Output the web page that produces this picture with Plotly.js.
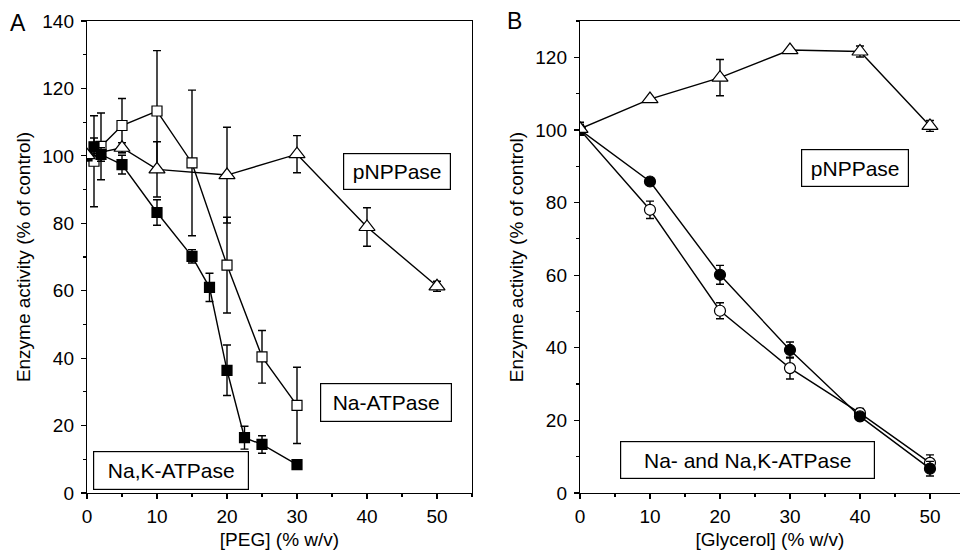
<!DOCTYPE html>
<html>
<head>
<meta charset="utf-8">
<script src="https://cdn.plot.ly/plotly-3.0.1.min.js"></script>
<style>html,body{margin:0;padding:0;background:#fff;}#chart{width:960px;height:553px;}</style>
</head>
<body>
<div id="chart"></div>
<script>
// ---------- Panel A: PEG ----------
const pegNaK_x   = [0, 1, 2, 5, 10, 15, 17.5, 20, 22.5, 25, 30];
const pegNaK_y   = [100, 102.7, 100.4, 97.4, 83.2, 70.2, 61, 36.4, 16.4, 14.4, 8.4];
const pegNaK_err = [0, 2.6, 2, 2.8, 3.8, 2, 4.2, 7.5, 3.4, 2.6, 0];

const pegNa_x    = [0, 1, 2, 5, 10, 15, 20, 25, 30];
const pegNa_y    = [100, 98.4, 102.8, 109, 113.3, 97.9, 67.6, 40.4, 26];
const pegNa_err  = [0, 13.5, 9.9, 8, 17.9, 21.6, 14.2, 7.8, 11.3];

const pegP_x     = [0, 5, 10, 20, 30, 40, 50];
const pegP_y     = [100.2, 102.4, 96, 94.3, 100.5, 78.9, 61.3];
const pegP_err   = [0, 1.5, 8.2, 14.2, 5.5, 5.7, 1.5];

// ---------- Panel B: Glycerol ----------
const glyP_x     = [0, 10, 20, 30, 40, 50];
const glyP_y     = [100.3, 108.5, 114.4, 122, 121.6, 101.1];
const glyP_err   = [1.8, 0, 5, 0, 1.5, 1.5];

const glyNaK_x   = [0, 10, 20, 30, 40, 50];
const glyNaK_y   = [100, 85.8, 60.1, 39.4, 21.1, 6.7];
const glyNaK_err = [1.5, 1, 2.6, 2.2, 1, 2];

const glyNa_x    = [0, 10, 20, 30, 40, 50];
const glyNa_y    = [100, 78, 50.2, 34.4, 22, 8.3];
const glyNa_err  = [1.5, 2.4, 2.2, 3, 1.3, 2.2];

const FONT = 'Liberation Sans, Arial, Helvetica, sans-serif';
const BLK = '#000';

function errOpts(arr){
  return {type:'data', array:arr, visible:true, color:BLK, thickness:1.4, width:4};
}
function tr(x, y, err, xa, ya, symbol, fill, size){
  return {
    x:x, y:y, xaxis:xa, yaxis:ya, type:'scatter', mode:'lines+markers',
    line:{color:BLK, width:1.4},
    marker:{symbol:symbol, size:size, color:fill, line:{color:BLK, width:1.2}},
    error_y:errOpts(err), showlegend:false, hoverinfo:'x+y'
  };
}

const data = [
  tr(pegNa_x,  pegNa_y,  pegNa_err,  'x','y','square','#fff',10),
  tr(pegNaK_x, pegNaK_y, pegNaK_err, 'x','y','square',BLK,10),
  tr(pegP_x,   pegP_y,   pegP_err,   'x','y','triangle-up','#fff',14),
  tr(glyNa_x,  glyNa_y,  glyNa_err,  'x2','y2','circle','#fff',11),
  tr(glyNaK_x, glyNaK_y, glyNaK_err, 'x2','y2','circle',BLK,11),
  tr(glyP_x,   glyP_y,   glyP_err,   'x2','y2','triangle-up','#fff',14)
];

const L = 87, R = 0, T = 21, B = 60, W = 960, H = 553;
const PW = W - L - R;
const domA = [0, (472 - L) / PW];
const domB = [(580 - L) / PW, 1];

const tickFont = {family:FONT, size:19, color:BLK};
const titleFont = {family:FONT, size:19, color:BLK};

function mainX(dom, anchor, range, title, mirror){
  return {domain:dom, anchor:anchor, range:range, showline:true, linecolor:BLK, linewidth:1.2,
    mirror:mirror, ticks:'outside', ticklen:5, tickwidth:1.2, tickcolor:BLK, dtick:10, tick0:0,
    minor:{dtick:5, ticks:'outside', ticklen:3, tickwidth:1.2, tickcolor:BLK, showgrid:false},
    showgrid:false, zeroline:false, tickfont:tickFont, ticklabelstandoff:1,
    title:{text:title, font:titleFont, standoff:6}};
}
function mainY(anchor, range, dt, title, mirror){
  return {domain:[0,1], anchor:anchor, range:range, showline:true, linecolor:BLK, linewidth:1.2,
    mirror:mirror, ticks:'outside', ticklen:5, tickwidth:1.2, tickcolor:BLK, dtick:dt, tick0:0,
    minor:{dtick:dt/2, ticks:'outside', ticklen:3, tickwidth:1.2, tickcolor:BLK, showgrid:false},
    showgrid:false, zeroline:false, tickfont:tickFont, ticklabelstandoff:3,
    title:{text:title, font:titleFont, standoff:6}};
}
function overX(over, anchor, range){
  return {overlaying:over, anchor:anchor, side:'top', range:range, showline:false,
    ticks:'inside', ticklen:5, tickwidth:1.2, tickcolor:BLK, dtick:10, tick0:0,
    minor:{dtick:5, ticks:'inside', ticklen:3, tickwidth:1.2, tickcolor:BLK, showgrid:false},
    showticklabels:false, showgrid:false, zeroline:false};
}
function overY(over, anchor, range, dt){
  return {overlaying:over, anchor:anchor, side:'right', range:range, showline:false,
    ticks:'inside', ticklen:5, tickwidth:1.2, tickcolor:BLK, dtick:dt, tick0:0,
    minor:{dtick:dt/2, ticks:'inside', ticklen:3, tickwidth:1.2, tickcolor:BLK, showgrid:false},
    showticklabels:false, showgrid:false, zeroline:false};
}

const rangeAx = [0, 55], rangeAy = [0, 140];
const rangeBx = [0, 54.29], rangeBy = [0, 130];
const yTitle = 'Enzyme activity (% of control)';

function box(text, cx, cy, w, h){
  return {text:text, xref:'paper', yref:'paper', x:(cx - L)/PW, y:1 - (cy - T)/(H - T - B),
    xanchor:'center', yanchor:'middle', showarrow:false, bgcolor:'#fff',
    bordercolor:BLK, borderwidth:1.2, borderpad:0, width:w - 2, height:h - 2,
    font:{family:FONT, size:21, color:BLK}};
}
function letter(text, px, py){
  return {text:text, xref:'paper', yref:'paper', x:(px - L)/PW, y:1 - (py - T)/(H - T - B),
    xanchor:'center', yanchor:'middle', showarrow:false, font:{family:FONT, size:23, color:BLK}};
}

const layout = {
  width:W, height:H, margin:{l:L, r:R, t:T, b:B},
  paper_bgcolor:'#fff', plot_bgcolor:'#fff', showlegend:false,
  xaxis: mainX(domA, 'y', rangeAx, '[PEG] (% w/v)', true),
  yaxis: mainY('x', rangeAy, 20, yTitle, true),
  xaxis2: mainX(domB, 'y2', rangeBx, '[Glycerol] (% w/v)', true),
  yaxis2: mainY('x2', rangeBy, 20, yTitle, false),
  xaxis3: overX('x', 'y', rangeAx),
  yaxis3: overY('y', 'x', rangeAy, 20),
  xaxis4: overX('x2', 'y2', rangeBx),
  yaxis4: overY('y2', 'x2', rangeBy, 20),
  annotations:[
    box('pNPPase', 397, 171.4, 108, 37),
    box('Na-ATPase', 385.5, 402.8, 132, 39),
    box('Na,K-ATPase', 171, 470, 156, 39),
    box('pNPPase', 855, 167.5, 108, 38),
    box('Na- and Na,K-ATPase', 747.5, 460, 255, 38),
    letter('A', 18, 23),
    letter('B', 514, 21)
  ]
};

Plotly.newPlot('chart', data, layout, {displayModeBar:false, staticPlot:true});
</script>
</body>
</html>
